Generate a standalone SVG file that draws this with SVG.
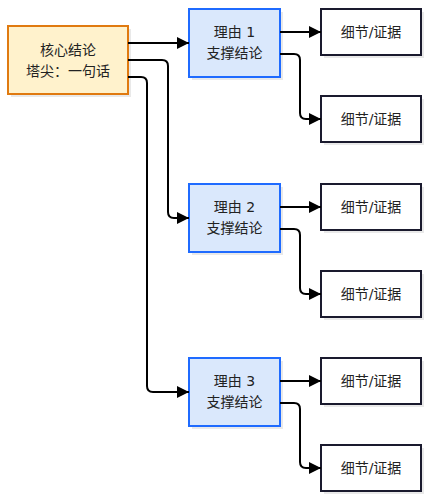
<svg xmlns="http://www.w3.org/2000/svg" width="428" height="500" viewBox="0 0 428 500">
<defs>
<marker id="arr" markerUnits="userSpaceOnUse" markerWidth="12" markerHeight="12" refX="12" refY="6" orient="auto">
<path d="M0,0 L12,6 L0,12 z" fill="#000"/>
</marker>
<style>
text{font-family:"DejaVu Sans","Noto Sans CJK SC",sans-serif;font-size:14px;fill:#222;text-anchor:middle;dominant-baseline:central}
.sh{fill:#e9e9e9}
.core{fill:#fff2cc;stroke:#e07a10;stroke-width:2}
.rsn{fill:#dae8fc;stroke:#1f6bff;stroke-width:2}
.det{fill:#fff;stroke:#1a1a2e;stroke-width:2}
.c path{fill:none;stroke:#000;stroke-width:2;marker-end:url(#arr)}
</style>
</defs>
<rect width="428" height="500" fill="#fff"/>
<g id="core">
<rect class="sh" x="11" y="29" width="120" height="68"/>
<rect class="core" x="8" y="26" width="120" height="68"/>
<text x="68" y="50">核心结论</text>
<text x="68" y="71">塔尖：一句话</text>
</g>
<g id="reason1">
<rect class="sh" x="192" y="12" width="91" height="68"/>
<rect class="rsn" x="189" y="9" width="91" height="68"/>
<text x="234.5" y="32">理由 1</text>
<text x="234.5" y="53">支撑结论</text>
</g>
<g id="reason2">
<rect class="sh" x="192" y="187" width="91" height="68"/>
<rect class="rsn" x="189" y="184" width="91" height="68"/>
<text x="234.5" y="207">理由 2</text>
<text x="234.5" y="228">支撑结论</text>
</g>
<g id="reason3">
<rect class="sh" x="192" y="361" width="91" height="68"/>
<rect class="rsn" x="189" y="358" width="91" height="68"/>
<text x="234.5" y="381">理由 3</text>
<text x="234.5" y="402">支撑结论</text>
</g>
<g id="detail1a"><rect class="sh" x="324" y="12" width="100" height="46"/><rect class="det" x="321" y="9" width="100" height="46"/><text x="371" y="32">细节/证据</text></g>
<g id="detail1b"><rect class="sh" x="324" y="99" width="100" height="46"/><rect class="det" x="321" y="96" width="100" height="46"/><text x="371" y="119">细节/证据</text></g>
<g id="detail2a"><rect class="sh" x="324" y="187" width="100" height="46"/><rect class="det" x="321" y="184" width="100" height="46"/><text x="371" y="207">细节/证据</text></g>
<g id="detail2b"><rect class="sh" x="324" y="274" width="100" height="46"/><rect class="det" x="321" y="271" width="100" height="46"/><text x="371" y="294">细节/证据</text></g>
<g id="detail3a"><rect class="sh" x="324" y="361" width="100" height="46"/><rect class="det" x="321" y="358" width="100" height="46"/><text x="371" y="381">细节/证据</text></g>
<g id="detail3b"><rect class="sh" x="324" y="448" width="100" height="46"/><rect class="det" x="321" y="445" width="100" height="46"/><text x="371" y="468">细节/证据</text></g>
<g id="connectors" class="c">
<path d="M128,43 H189"/>
<path d="M128,60 H162 Q168,60 168,66 V212 Q168,218 174,218 H189"/>
<path d="M128,77 H141 Q147,77 147,83 V386 Q147,392 153,392 H189"/>
<path d="M280,32 H321"/>
<path d="M280,54 H294 Q300,54 300,60 V113 Q300,119 306,119 H321"/>
<path d="M280,207 H321"/>
<path d="M280,229 H294 Q300,229 300,235 V288 Q300,294 306,294 H321"/>
<path d="M280,381 H321"/>
<path d="M280,403 H294 Q300,403 300,409 V462 Q300,468 306,468 H321"/>
</g>
</svg>
